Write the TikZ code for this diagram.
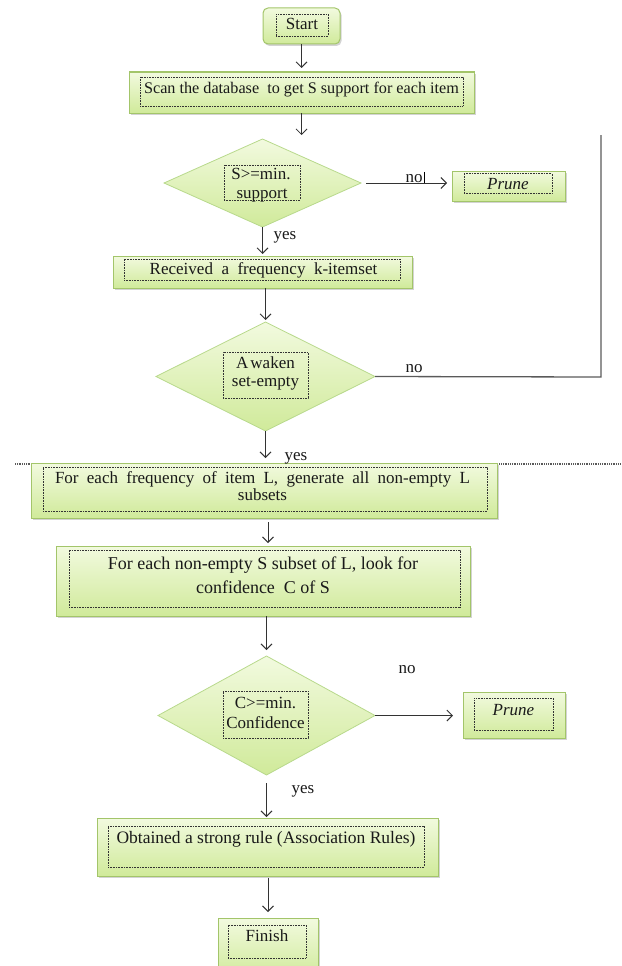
\documentclass[tikz,border=0pt]{standalone}
\usepackage{fontspec}
\setmainfont{Liberation Serif}
\usetikzlibrary{shapes.geometric,shadows,arrows.meta,calc}

\definecolor{gborder}{HTML}{A3C56A}
\definecolor{dborder}{HTML}{B8D98C}
\definecolor{gtop}{HTML}{F2FADF}
\definecolor{gbot}{HTML}{D0EA9A}
\definecolor{lnk}{HTML}{333333}
\definecolor{loopc}{HTML}{5A5A5A}

\tikzset{
 boxshape/.style={draw=gborder, line width=1pt, top color=gtop, bottom color=gbot,
   drop shadow={shadow xshift=1.5pt, shadow yshift=-2pt, opacity=0.35, fill=gray},
   inner sep=0pt, outer sep=0pt},
 dia/.style={diamond, draw=dborder, line width=0.8pt, top color=gtop, bottom color=gbot,
   inner sep=0pt, outer sep=0pt},
 inbox/.style={draw=black!80, dash pattern=on 0.8pt off 0.8pt, line width=0.6pt, inner sep=0pt},
 txt/.style={font=\fontsize{17}{20}\selectfont, text=black!90, inner sep=0pt,
   text height=14pt, text depth=2pt},
 arr/.style={draw=lnk, line width=0.9pt, -{Straight Barb[length=5.5pt,width=11pt]}},
 lbl/.style={font=\fontsize{17}{20}\selectfont, text=black!90, inner sep=0pt,
   text height=14pt, text depth=2pt},
}

\begin{document}
\begin{tikzpicture}[x=1pt,y=-1pt]
\useasboundingbox (0,0) rectangle (621,966);
\clip (0,0) rectangle (621,966);

% dotted horizontal rule behind box 3
\coordinate (hl) at (15,464);
\coordinate (hr) at (621,464);
\draw[black!65, dash pattern=on 1pt off 0.8pt, line width=1.2pt] (hl) -- (hr);

% Start
\node[boxshape, rounded corners=5pt, minimum width=77pt, minimum height=36pt] (start) at (301.5,26) {};
\node[inbox, minimum width=52pt, minimum height=22pt] (startin) at (302,25) {};
\node[txt] (startt) at (302,24) {Start};

% Scan
\node[boxshape, minimum width=345pt, minimum height=41pt] (scan) at (301.5,92.5) {};
\node[inbox, minimum width=323pt, minimum height=29pt] (scanin) at (301.5,91.5) {};
\node[txt, font=\fontsize{16.2}{19}\selectfont] (scant) at (301.5,87) {Scan the database\ \ to get S support for each item};

% Decision 1
\node[dia, minimum width=197pt, minimum height=88pt] (d1) at (262.5,183) {};
\node[inbox, minimum width=76pt, minimum height=35pt] (d1in) at (262,182.5) {};
\node[txt] (d1a) at (261,173) {S>=min.};
\node[txt] (d1b) at (262,192) {support};

% Prune 1
\node[boxshape, minimum width=113pt, minimum height=30pt] (prune1) at (508.5,186) {};
\node[inbox, minimum width=88pt, minimum height=20pt] (prune1in) at (508,183.5) {};
\node[txt, font=\fontsize{17}{20}\selectfont\itshape] (prune1t) at (508,183) {Prune};

% Received
\node[boxshape, minimum width=299pt, minimum height=32pt] (recv) at (262.5,272) {};
\node[inbox, minimum width=276pt, minimum height=21pt] (recvin) at (262,269.5) {};
\node[txt] (recvt) at (263.5,268) {Received\ \ a\ \ frequency\ \ k-itemset};

% Decision 2
\node[dia, minimum width=219pt, minimum height=109pt] (d2) at (265.5,376.5) {};
\node[inbox, minimum width=85pt, minimum height=46pt] (d2in) at (265.5,375) {};
\node[txt] (d2a) at (265.5,362) {A\hspace{2pt}waken};
\node[txt] (d2b) at (265.5,380) {set-empty};

% Box 3
\node[boxshape, minimum width=466pt, minimum height=55pt] (box3) at (264,490.5) {};
\node[inbox, minimum width=444pt, minimum height=44pt] (box3in) at (265,489) {};
\node[txt] (box3a) at (262.5,477) {\makebox[415pt][s]{For each frequency of item L, generate all non-empty L}};
\node[txt] (box3b) at (262.5,494) {subsets};

% Box 4
\node[boxshape, minimum width=414pt, minimum height=70pt] (box4) at (263,581) {};
\node[inbox, minimum width=391pt, minimum height=57pt] (box4in) at (264.5,578.5) {};
\node[txt, font=\fontsize{18}{21}\selectfont] (box4a) at (263,563) {For each non-empty S subset of L, look for};
\node[txt, font=\fontsize{18}{21}\selectfont] (box4b) at (263,587) {confidence\ \ C of S};

% Decision 3
\node[dia, minimum width=217pt, minimum height=119pt] (d3) at (266.5,715.5) {};
\node[inbox, minimum width=85pt, minimum height=47pt] (d3in) at (265.5,714.5) {};
\node[txt] (d3a) at (265.5,702) {C>=min.};
\node[txt] (d3b) at (265.5,722) {Confidence};

% Prune 2
\node[boxshape, minimum width=102pt, minimum height=46pt] (prune2) at (514,715) {};
\node[inbox, minimum width=79pt, minimum height=32pt] (prune2in) at (513.5,714) {};
\node[txt, font=\fontsize{17}{20}\selectfont\itshape] (prune2t) at (513.5,709) {Prune};

% Box 5
\node[boxshape, minimum width=341pt, minimum height=58pt] (box5) at (267.5,847) {};
\node[inbox, minimum width=316pt, minimum height=41pt] (box5in) at (266,846.5) {};
\node[txt, font=\fontsize{17.5}{20}\selectfont] (box5t) at (266,837) {Obtained a strong rule (Association\ Rules)};

% Finish
\node[boxshape, minimum width=100pt, minimum height=60pt] (finish) at (268,948) {};
\node[inbox, minimum width=78pt, minimum height=33pt] (finishin) at (267,941.5) {};
\node[txt] (finisht) at (267,935) {Finish};

% Labels
\node[lbl] (no1) at (414,176) {no};
\draw[black, line width=1.4pt] ([xshift=2pt,yshift=-4pt]no1.north east) -- ([xshift=2pt,yshift=0pt]no1.south east);
\node[lbl] (yes1) at (285,233) {yes};
\node[lbl] (no2) at (414,366) {no};
\node[lbl] (yes2) at (296,454) {yes};
\node[lbl] (no3) at (407,667) {no};
\node[lbl] (yes3) at (303,787) {yes};

% Connectors
\draw[arr, shorten >=4pt] (start.south) -- (start.south |- scan.north);
\coordinate (scanend) at (301.5,135);
\draw[arr, line width=0.8pt] (scan.south) -- (scanend);
\draw[arr, shorten <=5pt, shorten >=5pt] (d1.east) -- (d1.east -| prune1.west);
\draw[arr, shorten >=2pt] (d1.south) -- (d1.south |- recv.north);
\draw[arr, shorten >=2pt] (d2.north |- recv.south) -- (d2.north);
\coordinate (loopcorner) at (601,377);
\coordinate (looptop) at (601,135);
\draw[loopc, line width=1.3pt] (d2.east) -- (loopcorner) -- (looptop);
\draw[arr, shorten >=5pt] (d2.south) -- (d2.south |- box3.north);
\draw[arr, shorten <=4pt, shorten >=3pt] ([xshift=4pt]box3.south) -- ([xshift=4pt]box3.south |- box4.north);
\draw[arr, shorten >=6pt] (d3.north |- box4.south) -- (d3.north);
\draw[arr, shorten >=10pt] (d3.east) -- (d3.east -| prune2.west);
\draw[arr, shorten <=8pt, shorten >=1pt] (d3.south) -- (d3.south |- box5.north);
\draw[arr, shorten <=2pt, shorten >=6pt] (finish.north |- box5.south) -- (finish.north);
\end{tikzpicture}
\end{document}
